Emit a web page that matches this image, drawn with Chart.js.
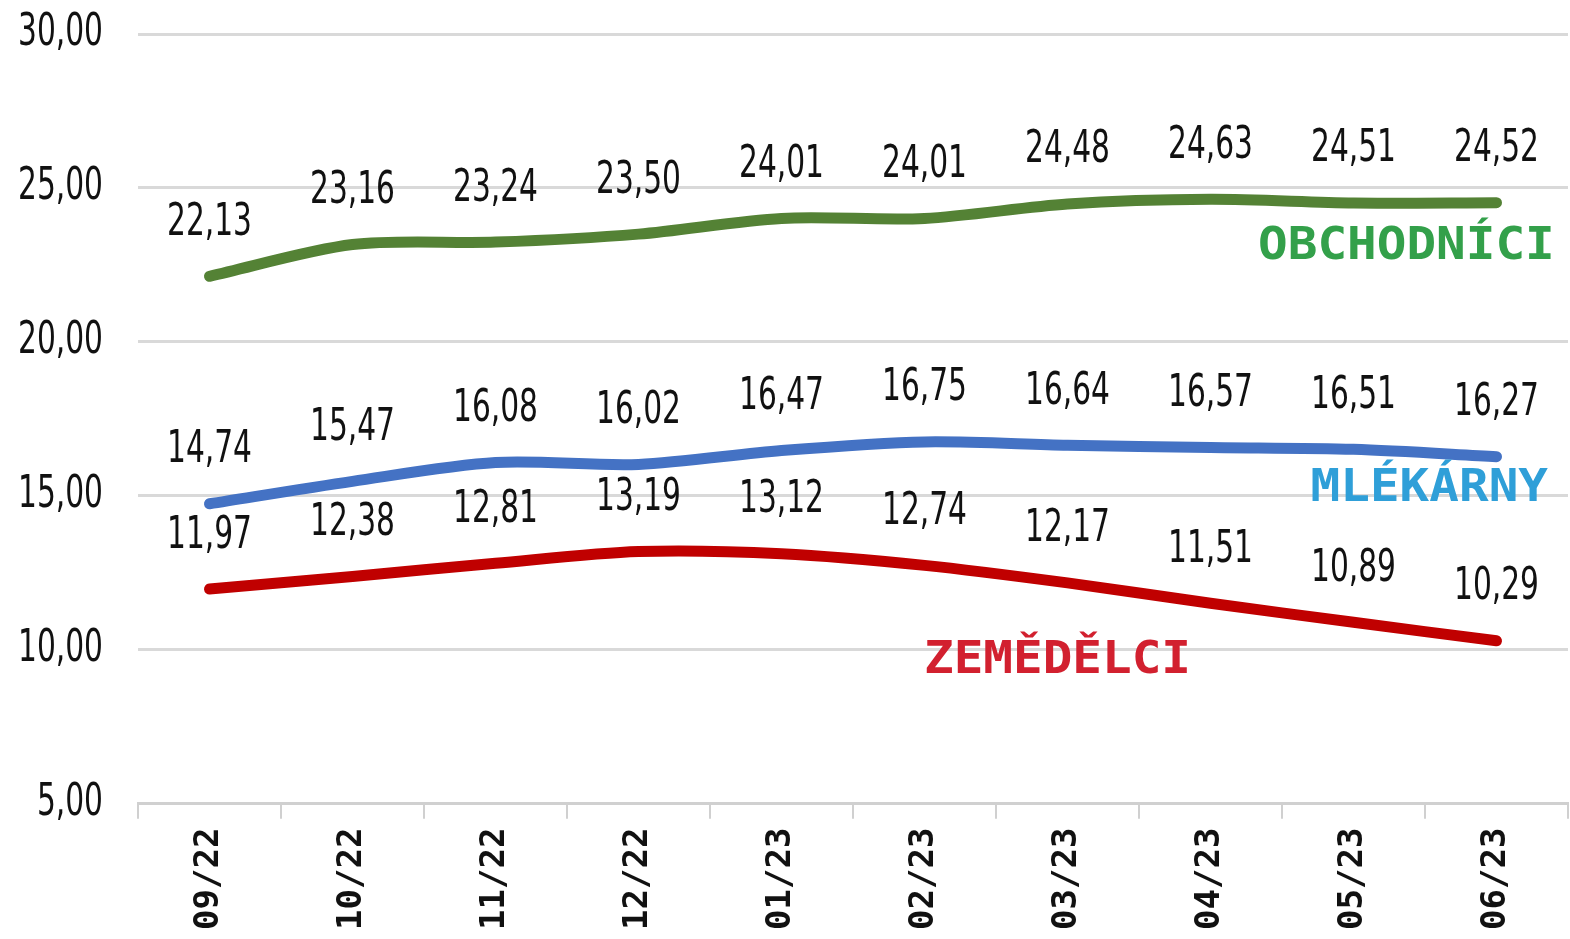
<!DOCTYPE html>
<html lang="cs">
<head>
<meta charset="utf-8">
<title>Ceny mléka</title>
<script src="https://cdn.jsdelivr.net/npm/chart.js@4/dist/chart.umd.min.js"></script>
<style>
    html, body { margin: 0; padding: 0; background: #fff; }
    #wrap { width: 1570px; height: 939px; }
</style>
</head>
<body>
<div id="wrap"><canvas id="cena-chart"></canvas></div>
<script>
// Data
const mesice = ['09/22', '10/22', '11/22', '12/22', '01/23', '02/23', '03/23', '04/23', '05/23', '06/23'];
const obchodnici = [22.13, 23.16, 23.24, 23.50, 24.01, 24.01, 24.48, 24.63, 24.51, 24.52];
const mlekarny = [14.74, 15.47, 16.08, 16.02, 16.47, 16.75, 16.64, 16.57, 16.51, 16.27];
const zemedelci = [11.97, 12.38, 12.81, 13.19, 13.12, 12.74, 12.17, 11.51, 10.89, 10.29];
const yTicks = [5, 10, 15, 20, 25, 30];

// Popisky řad: název, index kategorie, hodnota (umístění v datových souřadnicích)
const nazvyRad = [
    { text: 'OBCHODNÍCI', idx: 8.37, val: 23.05, color: '#33a04a' },
    { text: 'MLÉKÁRNY', idx: 8.53, val: 15.2, color: '#2f9fd8' },
    { text: 'ZEMĚDĚLCI', idx: 5.93, val: 9.63, color: '#d2202f' }
];

const numFont = '44px "DejaVu Sans Condensed", sans-serif';
const narrow = 0.75;   // zúžení číslic
const fmt = v => v.toFixed(2).replace('.', ',');

// Popisky os a hodnot kreslené ručně (úzké písmo)
const popiskyPlugin = {
    id: 'popisky',
    afterDatasetsDraw(chart) {
        const ctx = chart.ctx;
        const xs = chart.scales.x, ys = chart.scales.y;
        ctx.save();
        ctx.font = numFont;
        ctx.fillStyle = '#111';
        ctx.textBaseline = 'middle';

        // hodnoty osy y
        ctx.save();
        ctx.scale(narrow, 1);
        ctx.textAlign = 'right';
        ys.ticks.forEach(t => {
            ctx.fillText(fmt(t.value), (chart.chartArea.left - 35) / narrow, ys.getPixelForValue(t.value));
        });
        // hodnoty nad body
        ctx.textAlign = 'center';
        chart.data.datasets.forEach((ds, i) => {
            chart.getDatasetMeta(i).data.forEach((pt, j) => {
                ctx.fillText(fmt(ds.data[j]), pt.x / narrow, pt.y - 53);
            });
        });
        ctx.restore();

        // názvy řad
        ctx.font = 'bold 44px "DejaVu Sans Mono", monospace';
        ctx.textAlign = 'center';
        nazvyRad.forEach(n => {
            const i0 = Math.floor(n.idx);
            const x0 = xs.getPixelForValue(i0);
            const x1 = xs.getPixelForValue(i0 + 1);
            const x = x0 + (x1 - x0) * (n.idx - i0);
            ctx.save();
            ctx.scale(1.12, 1);
            ctx.fillStyle = n.color;
            ctx.fillText(n.text, x / 1.12, ys.getPixelForValue(n.val));
            ctx.restore();
        });
        ctx.restore();
    }
};

const ctx = document.getElementById('cena-chart').getContext('2d');

const lineDs = (label, data, color) => ({
    label: label,
    data: data,
    borderColor: color,
    backgroundColor: color,
    borderWidth: 11,
    pointRadius: 0,
    tension: 0.3,
    borderCapStyle: 'round'
});

new Chart(ctx, {
    type: 'line',
    data: {
        labels: mesice,
        datasets: [
            lineDs('Obchodníci', obchodnici, '#548235'),
            lineDs('Mlékárny', mlekarny, '#4472c4'),
            lineDs('Zemědělci', zemedelci, '#c00000')
        ]
    },
    options: {
        responsive: true,
        maintainAspectRatio: false,
        animation: false,
        layout: { padding: { top: 34, right: 2, left: 0, bottom: 0 } },
        plugins: {
            legend: { display: false },
            tooltip: { enabled: false }
        },
        scales: {
            x: {
                offset: true,
                grid: {
                    offset: true,
                    drawOnChartArea: false,
                    drawTicks: true,
                    tickLength: 15,
                    color: '#d0d0d0',
                    lineWidth: 2
                },
                border: { color: '#d0d0d0', width: 3 },
                ticks: {
                    minRotation: 90,
                    maxRotation: 90,
                    padding: 9,
                    color: '#111',
                    font: { family: '"DejaVu Sans Mono", monospace', size: 34, weight: 'bold' }
                }
            },
            y: {
                min: 5,
                max: 30,
                afterBuildTicks: s => { s.ticks = yTicks.map(v => ({ value: v })); },
                afterFit: s => { s.width = 138; s.paddingTop = 0; s.paddingBottom = 0; },
                grid: { color: '#d9d9d9', lineWidth: 3, drawTicks: false },
                border: { display: false },
                ticks: { display: false }
            }
        }
    },
    plugins: [popiskyPlugin]
});
</script>
</body>
</html>
